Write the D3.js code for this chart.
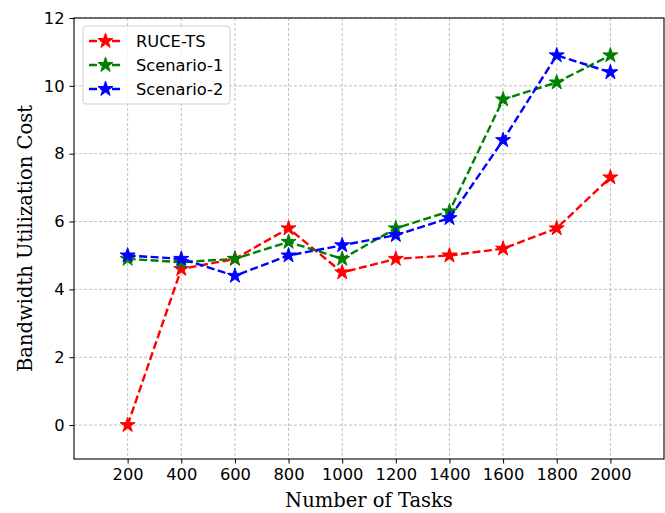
<!DOCTYPE html>
<html>
<head>
<meta charset="utf-8">
<script src="https://cdn.jsdelivr.net/npm/d3@7"></script>
<style>
  body { margin: 0; background: #fff; }
  svg { display: block; }
  .tick text { font-family: 'DejaVu Sans', sans-serif; font-size: 16.3px; fill: #000; }
  .axis-label { font-family: 'DejaVu Serif', serif; font-size: 19.5px; fill: #000; }
  .legend text { font-family: 'DejaVu Sans', sans-serif; font-size: 16.3px; fill: #000; }
</style>
</head>
<body>
<svg id="chart" width="665" height="513"></svg>
<script>
// DATA
const tasks = [200, 400, 600, 800, 1000, 1200, 1400, 1600, 1800, 2000];
const ruceTs = [0, 4.6, 4.9, 5.8, 4.5, 4.9, 5.0, 5.2, 5.8, 7.3];
const scenario1 = [4.9, 4.8, 4.9, 5.4, 4.9, 5.8, 6.3, 9.6, 10.1, 10.9];
const scenario2 = [5.0, 4.9, 4.4, 5.0, 5.3, 5.6, 6.1, 8.4, 10.9, 10.4];
const yTicks = [0, 2, 4, 6, 8, 10, 12];

const series = [
  { name: 'RUCE-TS', color: '#ff0000', values: ruceTs },
  { name: 'Scenario-1', color: '#008000', values: scenario1 },
  { name: 'Scenario-2', color: '#0000ff', values: scenario2 }
];

// SETUP
let svg = d3.select('#chart'),
  margin = { top: 18, right: 1, bottom: 54, left: 74 },
  width = 665 - margin.left - margin.right,
  height = 513 - margin.top - margin.bottom;

let x = d3.scaleLinear().domain([0, 2200]).range([0, width]),
  y = d3.scaleLinear().domain([-1, 12]).range([height, 0]);

let g = svg.append('g')
  .attr('transform', 'translate(' + margin.left + ',' + margin.top + ')');

// GRID
const grid = g.append('g').attr('class', 'grid');
grid.selectAll('.gx').data(tasks).enter().append('line')
  .attr('x1', d => x(d)).attr('x2', d => x(d))
  .attr('y1', 0).attr('y2', height);
grid.selectAll('.gy').data(yTicks).enter().append('line')
  .attr('x1', 0).attr('x2', width)
  .attr('y1', d => y(d)).attr('y2', d => y(d));
grid.selectAll('line')
  .attr('stroke', '#b0b0b0')
  .attr('stroke-width', 0.8)
  .attr('stroke-dasharray', '3,2');

// AXES
const xAxis = g.append('g')
  .attr('transform', 'translate(0,' + height + ')')
  .call(d3.axisBottom(x).tickValues(tasks).tickFormat(d3.format('d'))
    .tickSize(4.5).tickPadding(5).tickSizeOuter(0));
const yAxis = g.append('g')
  .call(d3.axisLeft(y).tickValues(yTicks).tickFormat(d3.format('d'))
    .tickSize(4.5).tickPadding(5).tickSizeOuter(0));
[xAxis, yAxis].forEach(a => {
  a.select('.domain').remove();
  a.selectAll('.tick line').attr('stroke', '#000').attr('stroke-width', 1);
});

// frame
g.append('rect')
  .attr('width', width).attr('height', height)
  .attr('fill', 'none').attr('stroke', '#000').attr('stroke-width', 1.1);

// LINES
const line = d3.line()
  .x((d, i) => x(tasks[i]))
  .y(d => y(d));
const star = d3.symbol().type(d3.symbolStar).size(70);

series.forEach(s => {
  g.append('path')
    .datum(s.values)
    .attr('d', line)
    .attr('fill', 'none')
    .attr('stroke', s.color)
    .attr('stroke-width', 2.4)
    .attr('stroke-dasharray', '8,3.5');
  g.append('g').selectAll('path')
    .data(s.values)
    .enter()
    .append('path')
    .attr('d', star)
    .attr('transform', (d, i) => 'translate(' + x(tasks[i]) + ',' + y(d) + ')')
    .attr('fill', s.color)
    .attr('stroke', s.color)
    .attr('stroke-width', 1);
});

// AXIS LABELS
svg.append('text')
  .attr('class', 'axis-label')
  .attr('x', margin.left + width / 2)
  .attr('y', 507)
  .attr('text-anchor', 'middle')
  .text('Number of Tasks');
svg.append('text')
  .attr('class', 'axis-label')
  .attr('transform', 'translate(32,' + (margin.top + height / 2) + ') rotate(-90)')
  .attr('text-anchor', 'middle')
  .text('Bandwidth Utilization Cost');

// LEGEND
const legend = svg.append('g').attr('class', 'legend');
legend.append('rect')
  .attr('x', 83).attr('y', 26).attr('width', 147).attr('height', 78)
  .attr('rx', 3)
  .attr('fill', '#fff').attr('fill-opacity', 0.8)
  .attr('stroke', '#d0d0d0');
series.forEach((s, i) => {
  const ly = 41 + i * 24;
  legend.append('line')
    .attr('x1', 89).attr('x2', 122).attr('y1', ly).attr('y2', ly)
    .attr('stroke', s.color).attr('stroke-width', 2.4)
    .attr('stroke-dasharray', '8,3.5');
  legend.append('path')
    .attr('d', star)
    .attr('transform', 'translate(105.5,' + ly + ')')
    .attr('fill', s.color).attr('stroke', s.color);
  legend.append('text')
    .attr('x', 136).attr('y', ly).attr('dy', '0.35em')
    .text(s.name);
});
</script>
</body>
</html>
